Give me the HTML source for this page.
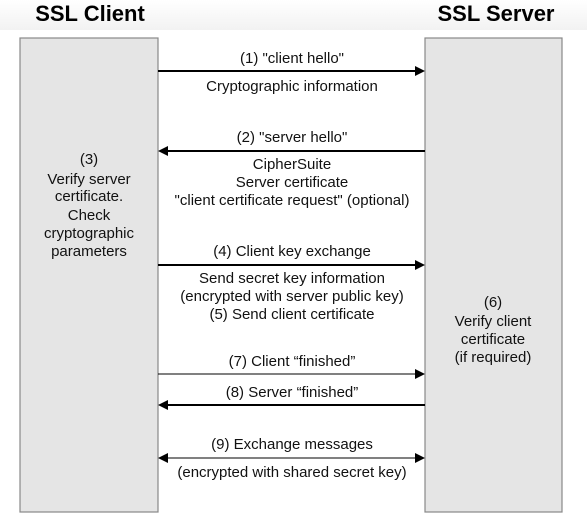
<!DOCTYPE html>
<html><head><style>
body{margin:0;background:#fff;}
svg{display:block;font-family:"Liberation Sans",sans-serif;}
</style></head><body>
<svg width="587" height="527" viewBox="0 0 587 527">
<defs><linearGradient id="g" x1="0" y1="0" x2="0" y2="1"><stop offset="0" stop-color="#fff"/><stop offset="1" stop-color="#f2f2f2"/></linearGradient></defs>
<rect x="0" y="0" width="587" height="30" fill="url(#g)"/>
<text x="90" y="21" font-size="22" font-weight="bold" text-anchor="middle">SSL Client</text>
<text x="496" y="21" font-size="22" font-weight="bold" text-anchor="middle">SSL Server</text>
<rect x="20" y="38" width="138" height="474" fill="#e5e5e5" stroke="#888" stroke-width="1.2"/>
<rect x="425" y="38" width="137" height="474" fill="#e5e5e5" stroke="#888" stroke-width="1.2"/>
<g font-size="15" text-anchor="middle" fill="#111">
<text x="89" y="164">(3)</text>
<text x="89" y="184">Verify server</text>
<text x="89" y="201">certificate.</text>
<text x="89" y="220">Check</text>
<text x="89" y="238">cryptographic</text>
<text x="89" y="256">parameters</text>
<text x="493" y="307">(6)</text>
<text x="493" y="326">Verify client</text>
<text x="493" y="344">certificate</text>
<text x="493" y="362">(if required)</text>
<text x="292" y="63">(1) "client hello"</text>
<text x="292" y="91">Cryptographic information</text>
<text x="292" y="142">(2) "server hello"</text>
<text x="292" y="169">CipherSuite</text>
<text x="292" y="187">Server certificate</text>
<text x="292" y="205">"client certificate request" (optional)</text>
<text x="292" y="256">(4) Client key exchange</text>
<text x="292" y="283">Send secret key information</text>
<text x="292" y="301">(encrypted with server public key)</text>
<text x="292" y="319">(5) Send client certificate</text>
<text x="292" y="366">(7) Client “finished”</text>
<text x="292" y="397">(8) Server “finished”</text>
<text x="292" y="449">(9) Exchange messages</text>
<text x="292" y="477">(encrypted with shared secret key)</text>
</g>
<g stroke="#000">
<line x1="158" y1="71" x2="416" y2="71" stroke-width="2"/>
<line x1="167" y1="151" x2="425" y2="151" stroke-width="2"/>
<line x1="158" y1="265" x2="416" y2="265" stroke-width="2"/>
<line x1="158" y1="374" x2="416" y2="374" stroke-width="1"/>
<line x1="167" y1="405" x2="425" y2="405" stroke-width="2"/>
<line x1="167" y1="458" x2="416" y2="458" stroke-width="1"/>
</g>
<g fill="#000">
<polygon points="425,71 415,66 415,76"/>
<polygon points="158,151 168,146 168,156"/>
<polygon points="425,265 415,260 415,270"/>
<polygon points="425,374 415,369 415,379"/>
<polygon points="158,405 168,400 168,410"/>
<polygon points="425,458 415,453 415,463"/>
<polygon points="158,458 168,453 168,463"/>
</g>
</svg>
</body></html>
